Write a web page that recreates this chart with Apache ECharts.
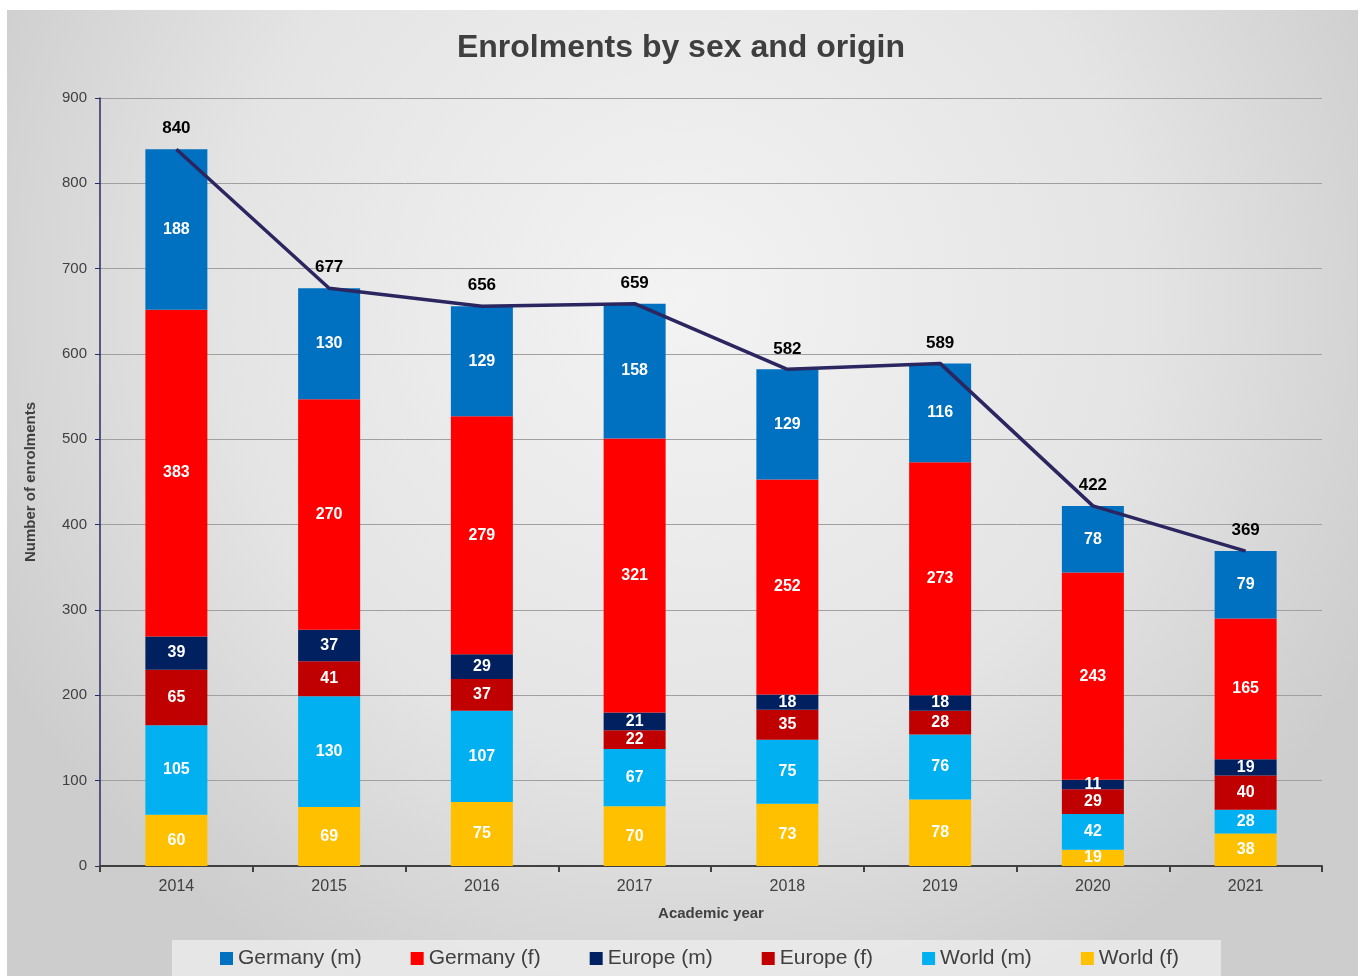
<!DOCTYPE html>
<html>
<head>
<meta charset="utf-8">
<title>Enrolments by sex and origin</title>
<script src="https://cdn.jsdelivr.net/npm/echarts@6/dist/echarts.min.js"></script>
<style>
    html, body { margin: 0; padding: 0; background: #fff; }
    #chart { width: 1362px; height: 976px; }
</style>
</head>
<body>
<div id="chart"></div>
<script type="text/javascript">
    // data
    var years = ['2014', '2015', '2016', '2017', '2018', '2019', '2020', '2021'];
    var germanyM = [188, 130, 129, 158, 129, 116, 78, 79];
    var germanyF = [383, 270, 279, 321, 252, 273, 243, 165];
    var europeM = [39, 37, 29, 21, 18, 18, 11, 19];
    var europeF = [65, 41, 37, 22, 35, 28, 29, 40];
    var worldM = [105, 130, 107, 67, 75, 76, 42, 28];
    var worldF = [60, 69, 75, 70, 73, 78, 19, 38];
    var totals = [840, 677, 656, 659, 582, 589, 422, 369];

    var myChart = echarts.init(document.getElementById('chart'));
    var font = 'Liberation Sans, Arial, sans-serif';

    function barSeries(name, data, color) {
        return {
            name: name,
            type: 'bar',
            stack: 'all',
            barWidth: 62,
            data: data,
            itemStyle: { color: color },
            label: {
                show: true,
                position: 'inside',
                color: '#fff',
                fontFamily: font,
                fontWeight: 'bold',
                fontSize: 16
            }
        };
    }

    var option = {
        backgroundColor: '#ffffff',
        textStyle: { fontFamily: font },
        graphic: [{
            type: 'rect',
            z: -10,
            silent: true,
            shape: { x: 7, y: 10, width: 1351, height: 966 },
            style: {
                fill: {
                    type: 'radial', x: 0.5, y: 0.3, r: 0.8,
                    colorStops: [
                        { offset: 0, color: '#f3f3f3' },
                        { offset: 0.6, color: '#e4e4e4' },
                        { offset: 1, color: '#cdcdcd' }
                    ]
                }
            }
        }],
        title: {
            text: 'Enrolments by sex and origin',
            left: 'center',
            top: 27,
            textStyle: { fontFamily: font, fontSize: 32, fontWeight: 'bold', color: '#3f3f3f' }
        },
        legend: {
            data: ['Germany (m)', 'Germany (f)', 'Europe (m)', 'Europe (f)', 'World (m)', 'World (f)'],
            left: 172,
            top: 940,
            padding: [8, 42, 8, 48],
            backgroundColor: 'rgba(236,236,236,0.8)',
            itemWidth: 13,
            itemHeight: 13,
            itemGap: 49,
            icon: 'rect',
            textStyle: { fontFamily: font, fontSize: 21, color: '#404040' }
        },
        grid: { left: 100, right: 40, top: 98, bottom: 110 },
        xAxis: {
            type: 'category',
            data: years,
            name: 'Academic year',
            nameLocation: 'middle',
            nameGap: 40,
            nameTextStyle: { fontFamily: font, fontSize: 15, fontWeight: 'bold', color: '#404040' },
            axisLine: { lineStyle: { color: '#404040', width: 2 } },
            axisTick: { show: true, length: 6, lineStyle: { color: '#404040', width: 2 } },
            axisLabel: { fontSize: 16, color: '#404040', margin: 13 }
        },
        yAxis: {
            type: 'value',
            min: 0,
            max: 900,
            interval: 100,
            name: 'Number of enrolments',
            nameLocation: 'middle',
            nameGap: 62,
            nameRotate: 90,
            nameTextStyle: { fontFamily: font, fontSize: 15, fontWeight: 'bold', color: '#404040' },
            axisLine: { show: true, lineStyle: { color: '#2b2b66', width: 1.5 } },
            axisTick: { show: true, length: 5, lineStyle: { color: '#2b2b66' } },
            axisLabel: { fontSize: 15, color: '#404040', margin: 13 },
            splitLine: { lineStyle: { color: '#a0a0a0', width: 1 } }
        },
        series: [
            barSeries('World (f)', worldF, '#ffc000'),
            barSeries('World (m)', worldM, '#00b0f0'),
            barSeries('Europe (f)', europeF, '#c00000'),
            barSeries('Europe (m)', europeM, '#002060'),
            barSeries('Germany (f)', germanyF, '#ff0000'),
            barSeries('Germany (m)', germanyM, '#0070c0'),
            {
                name: 'Total',
                type: 'line',
                data: totals,
                symbol: 'circle',
                symbolSize: 0,
                lineStyle: { color: '#2b2660', width: 3.5 },
                itemStyle: { color: '#2b2660' },
                z: 5,
                label: {
                    show: true,
                    position: 'top',
                    distance: 12,
                    color: '#000',
                    fontFamily: font,
                    fontWeight: 'bold',
                    fontSize: 17
                }
            }
        ]
    };

    myChart.setOption(option);
</script>
</body>
</html>
